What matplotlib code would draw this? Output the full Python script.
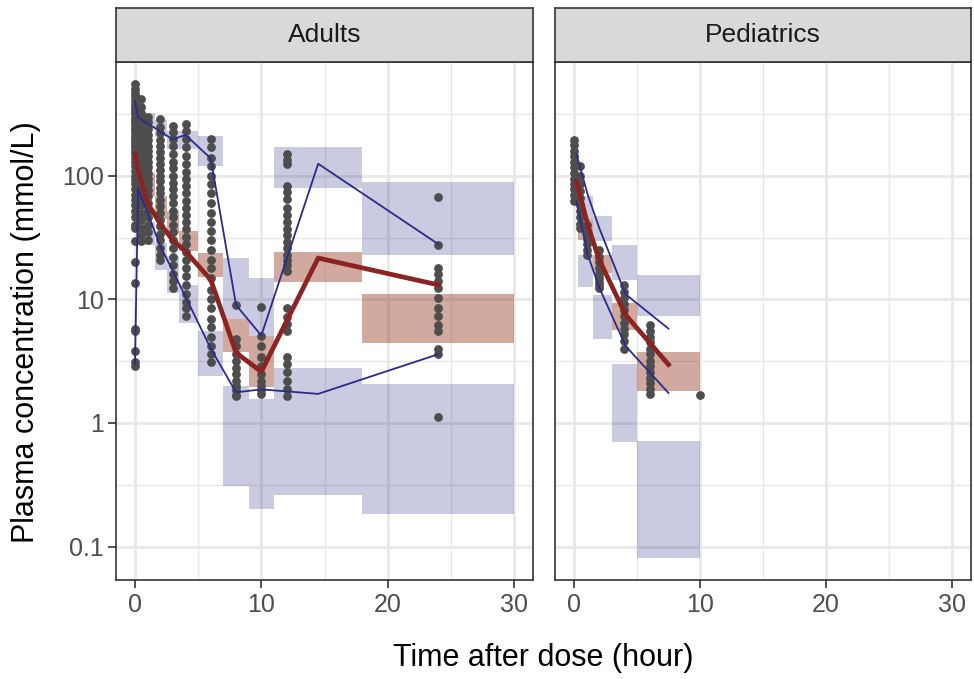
import numpy as np
import matplotlib.pyplot as plt
from matplotlib import font_manager

names = {f.name for f in font_manager.fontManager.ttflist}
fam = [f for f in ['Liberation Sans Narrow', 'Liberation Sans', 'DejaVu Sans'] if f in names]
plt.rcParams['font.family'] = fam

panels = ['Adults', 'Pediatrics']

# observed concentrations by nominal time
adult_obs = {
    0: [550, 500, 470, 440, 410, 380, 360, 340, 320, 300, 285, 270, 255, 240, 225, 210, 200, 190, 180,
        170, 160, 150, 140, 130, 120, 110, 100, 92, 85, 78, 70, 64, 58, 52, 46, 40, 37.8, 29.6, 20,
        13.5, 5.8, 5.5, 3.8, 3.1, 2.9],
    0.5: [420, 360, 320, 290, 260, 240, 220, 200, 180, 165, 150, 135, 120, 110, 100, 90, 80, 72, 65,
          58, 50, 44, 38, 33, 29.6],
    1: [300, 270, 240, 215, 195, 175, 160, 145, 130, 118, 105, 95, 85, 76, 68, 60, 53, 46, 40, 35, 30],
    2: [287, 250, 220, 195, 175, 155, 140, 125, 112, 100, 90, 80, 72, 64, 57, 50, 44, 39, 34, 30, 26,
        23, 20.9],
    3: [254, 225, 200, 175, 150, 130, 115, 100, 88, 78, 68, 60, 52, 46, 40, 35, 30, 26, 22, 19, 16, 14,
        12.3],
    4: [262, 230, 200, 170, 145, 125, 108, 94, 82, 72, 63, 55, 48, 42, 37, 32, 28, 24, 21, 18, 15.5, 13,
        11, 9.5, 8.5, 7.4],
    6: [197, 170, 140, 120, 100, 85, 72, 60, 50, 42, 36, 30, 25, 21, 18, 15, 12, 10, 8.5, 7, 6, 5, 4.2,
        3.6, 3.1],
    8: [9.0, 4.8, 4.2, 3.6, 3.2, 2.8, 2.5, 2.2, 2.0, 1.85, 1.7, 1.66],
    10: [8.7, 5.1, 4.2, 3.4, 2.9, 2.5, 2.2, 2.0, 1.85, 1.73],
    12: [149, 135, 124, 83, 74, 65, 55, 48, 42, 37, 33, 29, 26, 23, 21, 19, 17, 8.5, 7.2, 6.3, 5.5,
         3.4, 3.0, 2.6, 2.2, 1.9, 1.66],
    24: [67, 27.7, 17.8, 16, 14, 12.3, 10.2, 8.5, 7.3, 6.2, 5.5, 4.0, 3.6, 1.11],
}
ped_obs = {
    0: [195, 178, 160, 145, 130, 118, 105, 95, 86, 78, 70, 63],
    0.5: [120, 100, 85, 75, 66, 58, 52, 46, 41, 38],
    1: [40, 35, 31, 28, 25, 23],
    2: [25, 22, 20, 18, 16, 14.8, 13.8, 13, 12.3],
    4: [13.1, 11.5, 10.3, 9.2, 8.2, 7.3, 6.5, 5.8, 5.2, 4.6, 4.0],
    6: [6.2, 5.6, 5.0, 4.5, 4.0, 3.6, 3.2, 2.9, 2.6, 2.3, 2.1, 1.9, 1.73],
    10: [1.7],
}

# observed percentiles (5th, 50th, 95th)
adult_line_t = [0, 0.25, 1, 2, 3, 4, 6, 8, 10, 14.5, 24]
adult_p50 = [150, 110, 60, 41, 30, 24.5, 14.4, 3.7, 2.6, 21.6, 13.1]
adult_p95 = [400, 295, 265, 228, 197, 214, 138, 9.0, 5.1, 125, 28]
adult_p05 = [3.0, 78, 50, 27, 17, 10.5, 4.0, 1.77, 1.87, 1.72, 3.6]

ped_line_t = [0.2, 1.1, 2.0, 4.1, 7.5]
ped_p50 = [90, 40, 21, 7.5, 2.97]
ped_p95 = [150, 70, 38, 11, 5.8]
ped_p05 = [62, 23, 12.5, 4.2, 1.75]

# simulated prediction intervals per bin
adult_bin_lo = [0.25, 0.75, 1.6, 2.5, 3.5, 5, 7, 9, 11, 18]
adult_bin_hi = [0.75, 1.6, 2.5, 3.5, 5, 7, 9, 11, 18, 30]
adult_pi95 = [(290, 400), (245, 320), (205, 285), (165, 230), (165, 232), (120, 211), (7.0, 21.6),
              (5.1, 14.8), (80, 171), (22.9, 89)]
adult_pi50 = [(100, 160), (68, 105), (45, 68), (34, 52), (24.5, 35.5), (15.3, 23.7), (3.75, 7.0),
              (1.94, 5.1), (13.7, 24.1), (4.45, 11.0)]
adult_pi05 = [(40, 75), (27.6, 42), (17.3, 28.5), (11.2, 22.4), (6.4, 13.1), (2.4, 5.6), (0.31, 1.98),
              (0.20, 1.57), (0.26, 2.76), (0.184, 2.07)]

ped_bin_lo = [0.35, 1.5, 3.0, 5.0]
ped_bin_hi = [1.5, 3.0, 5.0, 10.0]
ped_pi95 = [(45, 68), (29.5, 47), (14.4, 27.6), (7.3, 15.8)]
ped_pi50 = [(30, 45), (16.2, 23), (5.7, 9.3), (1.83, 3.75)]
ped_pi05 = [(12.7, 22.9), (4.8, 10.9), (0.7, 3.0), (0.081, 0.72)]

data = {
    'Adults': (adult_obs, adult_line_t, adult_p05, adult_p50, adult_p95,
               adult_bin_lo, adult_bin_hi, adult_pi05, adult_pi50, adult_pi95),
    'Pediatrics': (ped_obs, ped_line_t, ped_p05, ped_p50, ped_p95,
                   ped_bin_lo, ped_bin_hi, ped_pi05, ped_pi50, ped_pi95),
}

blue_fill = '#2c2c88'
red_fill = '#8e2a11'
grid_c = '#E8E8E8'
dark = '#333333'

fig = plt.figure(figsize=(9.74, 6.79), dpi=100)
W, H = 974, 679
boxes = {'Adults': (116, 533), 'Pediatrics': (555, 971)}
top, bottom, strip_top = 62, 580, 8

for name in panels:
    x0, x1 = boxes[name]
    ax = fig.add_axes([x0 / W, 1 - bottom / H, (x1 - x0) / W, (bottom - top) / H])
    obs, lt, p05, p50, p95, blo, bhi, pi05, pi50, pi95 = data[name]

    ax.set_yscale('log')
    ax.set_xlim(-1.5, 31.5)
    ax.set_ylim(0.0537, 832)

    # grid
    for v in [5, 15, 25]:
        ax.axvline(v, color=grid_c, lw=1.0, zorder=0)
    for v in [0, 10, 20, 30]:
        ax.axvline(v, color=grid_c, lw=2.0, zorder=0)
    for v in [10 ** -0.5, 10 ** 0.5, 10 ** 1.5, 10 ** 2.5]:
        ax.axhline(v, color=grid_c, lw=1.0, zorder=0)
    for v in [0.1, 1, 10, 100]:
        ax.axhline(v, color=grid_c, lw=2.0, zorder=0)

    widths = np.array(bhi) - np.array(blo)
    for band, col, a in [(pi05, blue_fill, 0.25), (pi95, blue_fill, 0.25), (pi50, red_fill, 0.4)]:
        lo = np.array([b[0] for b in band])
        hi = np.array([b[1] for b in band])
        ax.bar(blo, hi - lo, bottom=lo, width=widths, align='edge', color=col, alpha=a,
               linewidth=0, zorder=1)

    for t, vals in obs.items():
        ax.scatter([t] * len(vals), vals, s=40, color='#4D4D4D', linewidths=0, zorder=2)

    ax.plot(lt, p05, color='#2b2b8c', lw=1.3, zorder=3)
    ax.plot(lt, p95, color='#2b2b8c', lw=1.3, zorder=3)
    ax.plot(lt, p50, color='#8B2323', lw=3.4, zorder=4)

    ax.set_xticks([0, 10, 20, 30])
    ax.set_yticks([0.1, 1, 10, 100])
    ax.set_yticks([], minor=True)
    ax.tick_params(axis='both', length=6, width=1.2, color=dark, labelsize=18,
                   labelcolor='#4D4D4D', pad=3)
    if name == 'Adults':
        ax.set_yticklabels(['0.1', '1', '10', '100'])
    else:
        ax.set_yticklabels([])
        ax.tick_params(axis='y', length=0)
    for s in ax.spines.values():
        s.set_color(dark)
        s.set_linewidth(1.2)

    sax = fig.add_axes([x0 / W, 1 - top / H, (x1 - x0) / W, (top - strip_top) / H])
    sax.set_facecolor('#D9D9D9')
    sax.set_xticks([])
    sax.set_yticks([])
    for s in sax.spines.values():
        s.set_color(dark)
        s.set_linewidth(1.2)
    sax.text(0.5, 0.5, name, ha='center', va='center', fontsize=19, color='#1A1A1A',
             transform=sax.transAxes)

fig.text((116 + 971) / 2 / W, 1 - 658 / H, 'Time after dose (hour)', ha='center', va='center',
         fontsize=22)
fig.text(26 / W, 1 - 332 / H, 'Plasma concentration (mmol/L)', ha='center', va='center',
         rotation=90, fontsize=22)

fig.savefig('out.png', dpi=100)
